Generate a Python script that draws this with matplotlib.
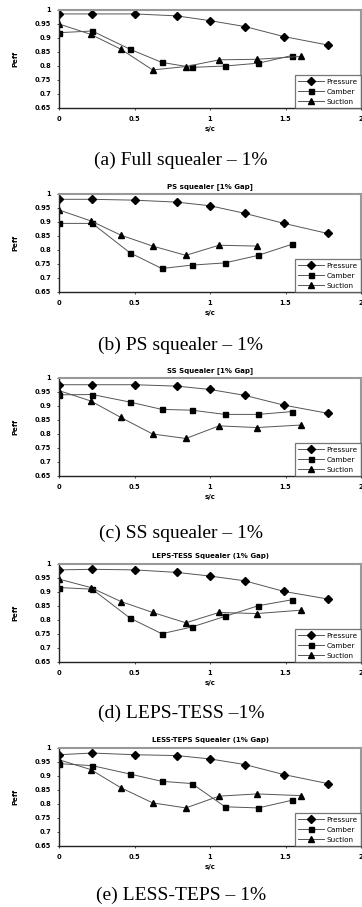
import matplotlib.pyplot as plt

# x positions (s/c) of the three measurement rows
x_pres = [0.0, 0.22, 0.5, 0.78, 1.0, 1.23, 1.49, 1.78]
x_camb = [0.0, 0.22, 0.47, 0.68, 0.88, 1.1, 1.32, 1.54]
x_suct = [0.0, 0.21, 0.41, 0.62, 0.84, 1.06, 1.31, 1.6]

# (a) full squealer
a_pres = [0.986, 0.986, 0.986, 0.979, 0.962, 0.941, 0.905, 0.875]
a_camb = [0.919, 0.925, 0.860, 0.813, 0.795, 0.800, 0.810, 0.837]
a_suct = [0.950, 0.913, 0.860, 0.786, 0.798, 0.822, 0.824, 0.834]

# (b) PS squealer
b_pres = [0.981, 0.981, 0.978, 0.971, 0.958, 0.931, 0.895, 0.859]
b_camb = [0.895, 0.895, 0.790, 0.734, 0.746, 0.754, 0.781, 0.820]
b_suct = [0.943, 0.904, 0.853, 0.814, 0.781, 0.817, 0.814]

# (c) SS squealer
c_pres = [0.976, 0.976, 0.976, 0.971, 0.959, 0.938, 0.903, 0.874]
c_camb = [0.940, 0.941, 0.914, 0.888, 0.885, 0.870, 0.870, 0.880]
c_suct = [0.955, 0.918, 0.859, 0.800, 0.784, 0.829, 0.823, 0.832]

# (d) LEPS-TESS
d_pres = [0.979, 0.981, 0.979, 0.970, 0.957, 0.940, 0.902, 0.875]
d_camb = [0.916, 0.910, 0.807, 0.751, 0.775, 0.813, 0.851, 0.872]
d_suct = [0.946, 0.916, 0.866, 0.827, 0.790, 0.827, 0.823, 0.835]

# (e) LESS-TEPS
e_pres = [0.976, 0.982, 0.976, 0.973, 0.961, 0.941, 0.905, 0.873]
e_camb = [0.944, 0.937, 0.907, 0.881, 0.873, 0.790, 0.786, 0.813]
e_suct = [0.958, 0.923, 0.858, 0.804, 0.786, 0.828, 0.836, 0.830]

titles = ["", "PS squealer [1% Gap]", "SS Squealer [1% Gap]",
          "LEPS-TESS Squealer (1% Gap)", "LESS-TEPS Squealer (1% Gap)"]
captions = ["(a) Full squealer \u2013 1%", "(b) PS squealer \u2013 1%",
            "(c) SS squealer \u2013 1%", "(d) LEPS-TESS \u20131%",
            "(e) LESS-TEPS \u2013 1%"]
panels = [(a_pres, a_camb, a_suct), (b_pres, b_camb, b_suct),
          (c_pres, c_camb, c_suct), (d_pres, d_camb, d_suct),
          (e_pres, e_camb, e_suct)]

W, H = 362, 907
fig = plt.figure(figsize=(W / 100, H / 100), dpi=100)

tops = [10, 194, 378, 564, 748]
cap_y = [160, 345, 533, 713, 895]
ax_h = 98
left, right = 59, 361

for i, (pres, camb, suct) in enumerate(panels):
    ax = fig.add_axes([left / W, 1 - (tops[i] + ax_h) / H,
                       (right - left) / W, ax_h / H])
    kw = dict(color="#555555", lw=0.7, mfc="black", mec="black")
    ax.plot(x_pres, pres, marker="D", ms=3.6, label="Pressure", **kw)
    ax.plot(x_camb[:len(camb)], camb, marker="s", ms=3.6, label="Camber", **kw)
    ax.plot(x_suct[:len(suct)], suct, marker="^", ms=4.6, label="Suction", **kw)

    ax.set_xlim(0, 2)
    ax.set_ylim(0.65, 1)
    ax.set_xticks([0, 0.5, 1, 1.5, 2])
    ax.set_xticklabels(["0", "0.5", "1", "1.5", "2"])
    ax.set_yticks([0.65, 0.7, 0.75, 0.8, 0.85, 0.9, 0.95, 1])
    ax.set_yticklabels(["0.65", "0.7", "0.75", "0.8", "0.85", "0.9", "0.95", "1"])
    ax.tick_params(labelsize=4.8, length=1.5, width=0.5, pad=4)
    for lab in ax.get_xticklabels() + ax.get_yticklabels():
        lab.set_fontweight("bold")
    for s in ["left", "bottom"]:
        ax.spines[s].set_linewidth(1.0)
        ax.spines[s].set_color("#222222")
    for s in ["top", "right"]:
        ax.spines[s].set_linewidth(1.5)
        ax.spines[s].set_color("#999999")

    ax.set_ylabel("Peff", fontsize=5, fontweight="bold", labelpad=12)
    ax.set_xlabel("s/c", fontsize=5, fontweight="bold", labelpad=3)
    if titles[i]:
        ax.set_title(titles[i], fontsize=5, fontweight="bold", pad=4)

    leg = ax.legend(loc="lower right", prop=dict(size=5.2), frameon=True,
                    fancybox=False, edgecolor="#555555", handlelength=3.6,
                    borderpad=0.45, labelspacing=0.55, handletextpad=0.3,
                    borderaxespad=0.0)
    leg.get_frame().set_linewidth(0.9)

    fig.text(0.5, 1 - cap_y[i] / H, captions[i], ha="center",
             va="center", fontsize=14, family="Liberation Serif")

fig.savefig("out.png", dpi=100)
